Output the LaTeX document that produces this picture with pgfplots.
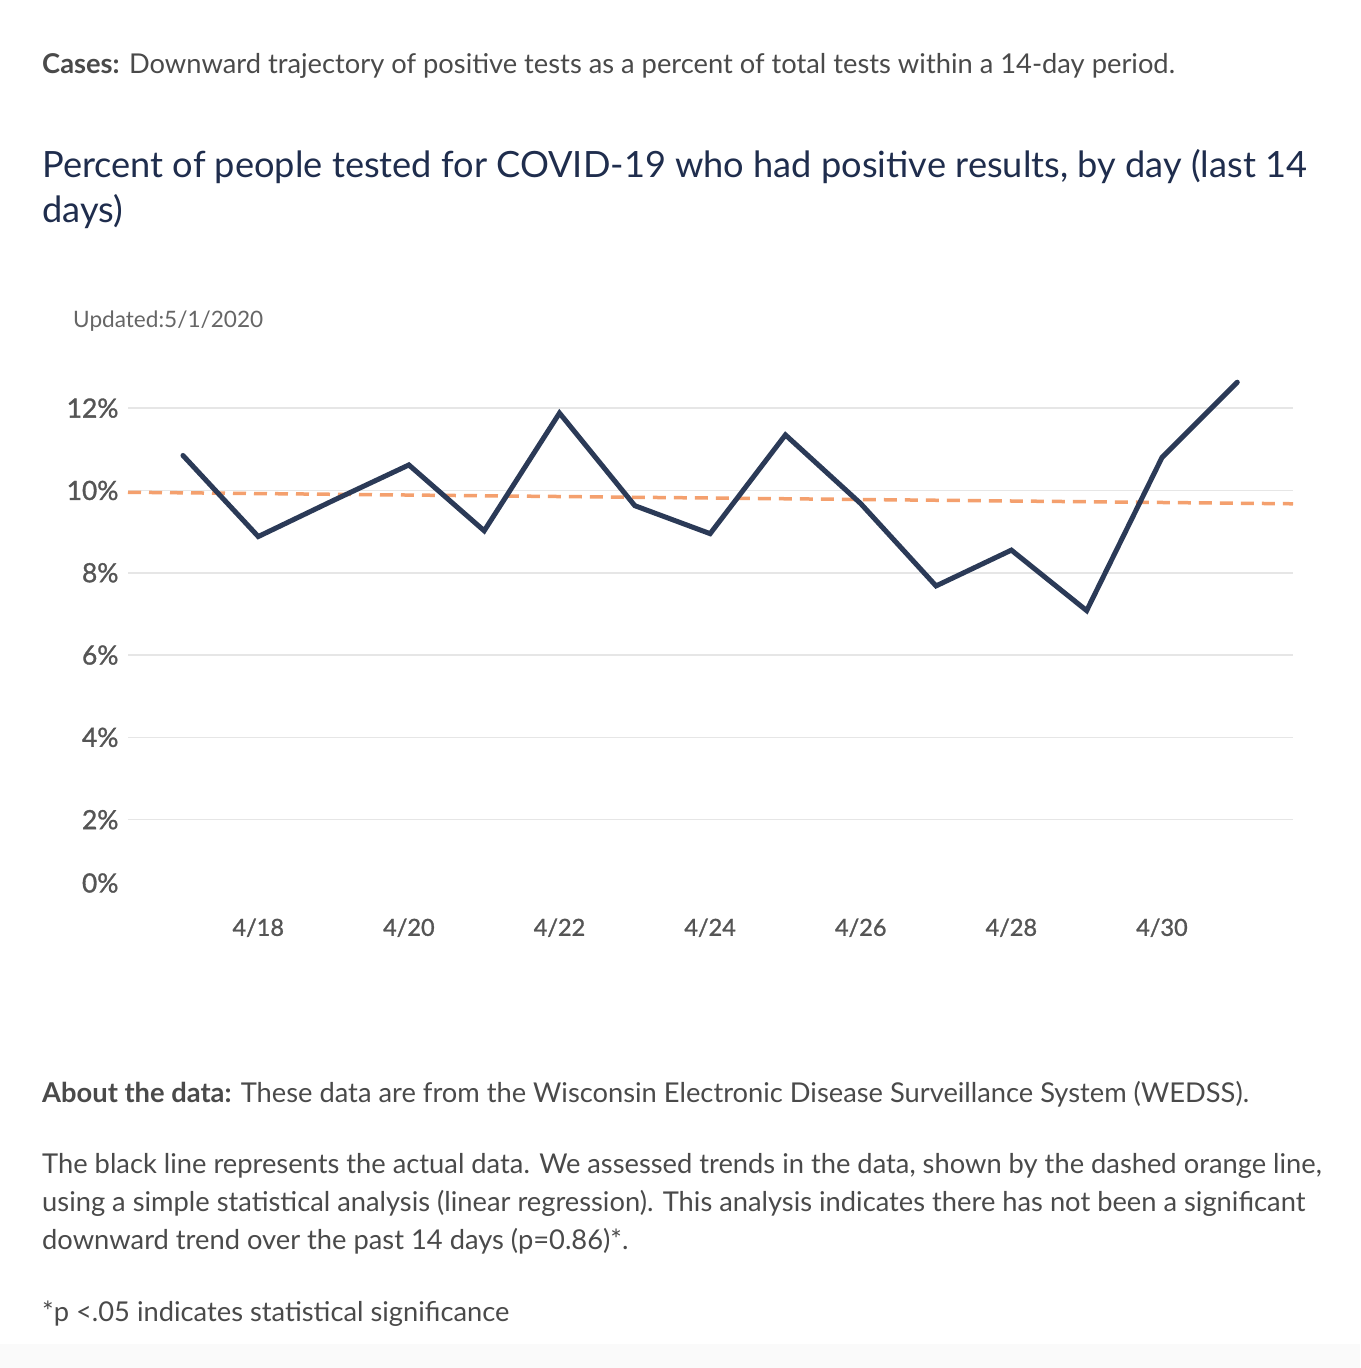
\documentclass[border=0pt]{standalone}
\usepackage{fontspec}
\setmainfont{Lato}
\newfontface\tickfont{Lato}[FakeBold=1.2]
\usepackage{pgfplots}
\pgfplotsset{compat=1.18}
\definecolor{txt}{HTML}{4A4A4A}
\definecolor{navy}{HTML}{1F2D4D}
\definecolor{linec}{HTML}{2B3A57}
\definecolor{trend}{HTML}{F4A06E}
\definecolor{gridc}{HTML}{E6E6E6}
\definecolor{tickc}{HTML}{555555}
\definecolor{upd}{HTML}{666666}

\pgfplotstableread{
day val
17 10.85
18 8.88
19 9.76
20 10.62
21 9.02
22 11.88
23 9.63
24 8.95
25 11.35
26 9.68
27 7.68
28 8.55
29 7.08
30 10.80
31 12.63
}\posdata

\begin{document}
\begin{tikzpicture}
\useasboundingbox (0pt,0pt) rectangle (1360pt,1368pt);
\fill[white] (0pt,0pt) rectangle (1360pt,1368pt);
\fill[black!2] (0pt,0pt) rectangle (1360pt,24pt);
\node[anchor=base west, inner sep=0, text=txt, font=\fontsize{27.3}{32}\selectfont] at (42pt,1294pt) {\textbf{Cases:} Downward trajectory of positive tests as a percent of total tests within a 14-day period.};
\node[anchor=base west, inner sep=0, text=navy, font=\fontsize{36.2}{40}\selectfont] at (42pt,1190pt) {Percent of people tested for COVID-19 who had positive results, by day (last 14};
\node[anchor=base west, inner sep=0, text=navy, font=\fontsize{36.2}{40}\selectfont] at (42pt,1145pt) {days)};
\node[anchor=base west, inner sep=0, text=upd, font=\fontsize{22.6}{26}\selectfont] at (73pt,1040pt) {Updated:5/1/2020};

\begin{axis}[
  at={(128pt,466pt)}, anchor=south west,
  width=1165pt, height=535pt, scale only axis,
  xmin=16.27, xmax=31.74, ymin=0, ymax=13,
  axis line style={draw=none},
  major tick length=0pt,
  tick style={draw=none},
  xtick={18,20,22,24,26,28,30},
  xticklabels={4/18,4/20,4/22,4/24,4/26,4/28,4/30},
  ytick={2,4,6,8,10,12},
  yticklabels={2\%,4\%,6\%,8\%,10\%,12\%},
  extra y ticks={0},
  extra y tick labels={0\%},
  extra y tick style={grid=none, yticklabel style={yshift=19pt}},
  ymajorgrids,
  grid style={gridc, line width=1.5pt},
  yticklabel style={text=tickc, font=\tickfont\fontsize{26.4}{26.4}\selectfont, anchor=east, xshift=-6pt},
  xticklabel style={text=tickc, font=\tickfont\fontsize{23.5}{23.5}\selectfont, anchor=north, yshift=-13pt},
  clip=false,
]
\addplot[trend, line width=3.5pt, dash pattern=on 13pt off 8pt] coordinates {(16.27,9.956) (31.74,9.676)};
\addplot[linec, line width=5pt, line join=miter, line cap=round] table[x=day, y=val] {\posdata};
\end{axis}

\node[anchor=base west, inner sep=0, text=txt, font=\fontsize{27.3}{32}\selectfont] at (42pt,265pt) {\textbf{About the data:} These data are from the Wisconsin Electronic Disease Surveillance System (WEDSS).};
\node[anchor=base west, inner sep=0, text=txt, font=\fontsize{27.3}{32}\selectfont] at (42pt,194pt) {The black line represents the actual data. We assessed trends in the data, shown by the dashed orange line,};
\node[anchor=base west, inner sep=0, text=txt, font=\fontsize{27.3}{32}\selectfont] at (42pt,156pt) {using a simple statistical analysis (linear regression). This analysis indicates there has not been a significant};
\node[anchor=base west, inner sep=0, text=txt, font=\fontsize{27.3}{32}\selectfont] at (42pt,118pt) {downward trend over the past 14 days (p=0.86)*.};
\node[anchor=base west, inner sep=0, text=txt, font=\fontsize{27.3}{32}\selectfont] at (42pt,46pt) {*p <.05 indicates statistical significance};
\end{tikzpicture}
\end{document}
